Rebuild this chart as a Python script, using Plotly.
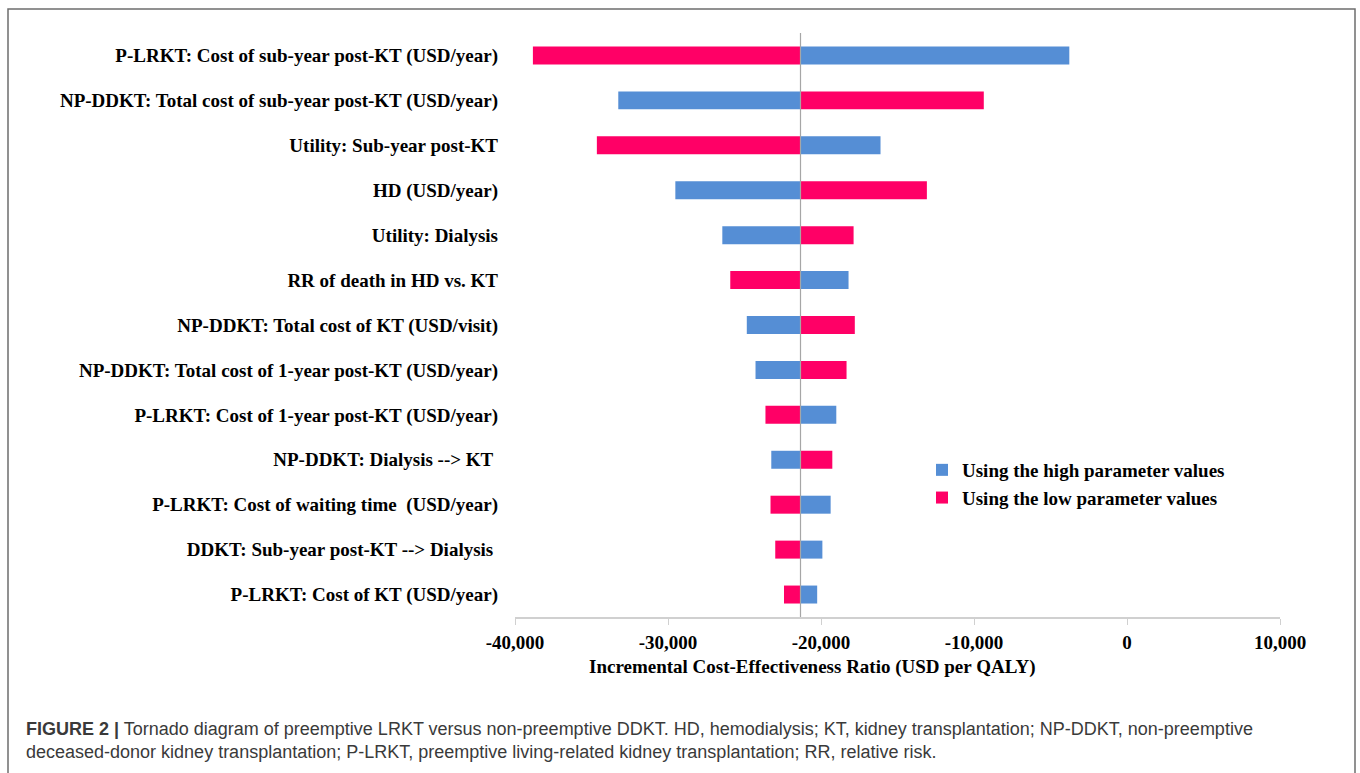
import plotly.graph_objects as go

# ---------------- data ----------------
parameters = [
    "P-LRKT: Cost of sub-year post-KT (USD/year)",
    "NP-DDKT: Total cost of sub-year post-KT (USD/year)",
    "Utility: Sub-year post-KT",
    "HD (USD/year)",
    "Utility: Dialysis",
    "RR of death in HD vs. KT",
    "NP-DDKT: Total cost of KT (USD/visit)",
    "NP-DDKT: Total cost of 1-year post-KT (USD/year)",
    "P-LRKT: Cost of 1-year post-KT (USD/year)",
    "NP-DDKT: Dialysis --> KT\u00a0",
    "P-LRKT: Cost of waiting time\u00a0 (USD/year)",
    "DDKT: Sub-year post-KT --> Dialysis\u00a0",
    "P-LRKT: Cost of KT (USD/year)",
]
base_icer = -21340
high_values = [-3770, -33250, -16110, -29520, -26450, -18200, -24850, -24280, -19000, -23250, -19370, -19910, -20250]
low_values = [-38830, -9360, -34650, -13080, -17870, -25930, -17790, -18330, -23630, -19260, -23300, -22990, -22420]
tick_vals = [-40000, -30000, -20000, -10000, 0, 10000]
tick_text = ["-40,000", "-30,000", "-20,000", "-10,000", "0", "10,000"]

BLUE = "#558ED5"
PINK = "#FF0066"
SERIF = "Liberation Serif, Times New Roman, serif"
FS = 19

W, H = 1360, 773
ML, MR, MT, MB = 515, 80, 33, 156
PW, PH = W - ML - MR, H - MT - MB


def px_x(p):
    return (p - ML) / PW


def px_y(p):
    return (H - MB - p) / PH


fig = go.Figure()
fig.add_trace(go.Bar(
    y=parameters, x=[v - base_icer for v in high_values], base=base_icer,
    orientation="h", name="Using the high parameter values",
    marker=dict(color=BLUE, line=dict(width=0)), width=0.4,
))
fig.add_trace(go.Bar(
    y=parameters, x=[v - base_icer for v in low_values], base=base_icer,
    orientation="h", name="Using the low parameter values",
    marker=dict(color=PINK, line=dict(width=0)), width=0.4,
))

fig.update_layout(
    width=W, height=H, autosize=False,
    margin=dict(l=ML, r=MR, t=MT, b=MB, pad=0),
    paper_bgcolor="white", plot_bgcolor="white",
    barmode="overlay",
    font=dict(family=SERIF, size=FS, color="black"),
    showlegend=True,
    legend=dict(
        x=px_x(922), y=px_y(451), xanchor="left", yanchor="top",
        font=dict(family=SERIF, size=FS, color="black", weight="bold"),
        bgcolor="rgba(0,0,0,0)", traceorder="normal",
        itemwidth=30,
    ),
    xaxis=dict(
        range=[-40000, 10000], tickvals=tick_vals, ticktext=tick_text,
        showgrid=False, zeroline=False, showline=True, linecolor="#D0D0D0",
        linewidth=1.5, ticks="outside", ticklen=6, tickcolor="#D0D0D0",
        tickfont=dict(family=SERIF, size=FS, color="black", weight="bold"),
        ticklabelstandoff=1,
    ),
    yaxis=dict(
        categoryorder="array", categoryarray=parameters, autorange="reversed",
        showgrid=False, zeroline=False, showline=False, ticks="",
        tickfont=dict(family=SERIF, size=FS, color="black", weight="bold"),
        ticklabelstandoff=16,
    ),
    shapes=[
        dict(type="line", xref="x", yref="paper", x0=base_icer, x1=base_icer,
             y0=0, y1=1, line=dict(color="#A6A6A6", width=1.2), layer="above"),
        dict(type="rect", xref="paper", yref="paper",
             x0=px_x(8), x1=px_x(1355), y0=px_y(790), y1=px_y(9),
             line=dict(color="#6E6E6E", width=1.5), fillcolor="rgba(0,0,0,0)"),
    ],
    annotations=[
        dict(text="<b>Incremental Cost-Effectiveness Ratio (USD per QALY)</b>",
             xref="paper", yref="paper", x=px_x(812), y=px_y(667),
             xanchor="center", yanchor="middle", showarrow=False,
             font=dict(family=SERIF, size=FS, color="black")),
        dict(text="<b>FIGURE 2 |</b> Tornado diagram of preemptive LRKT versus non-preemptive DDKT. HD, hemodialysis; KT, kidney transplantation; NP-DDKT, non-preemptive",
             xref="paper", yref="paper", x=px_x(24), y=px_y(729),
             xanchor="left", yanchor="middle", showarrow=False,
             font=dict(family="Liberation Sans Narrow, Arial Narrow, Liberation Sans, sans-serif", size=18, color="#3A3A3A")),
        dict(text="deceased-donor kidney transplantation; P-LRKT, preemptive living-related kidney transplantation; RR, relative risk.",
             xref="paper", yref="paper", x=px_x(24), y=px_y(752),
             xanchor="left", yanchor="middle", showarrow=False,
             font=dict(family="Liberation Sans Narrow, Arial Narrow, Liberation Sans, sans-serif", size=18, color="#3A3A3A")),
    ],
)

fig.write_html("out.html")
